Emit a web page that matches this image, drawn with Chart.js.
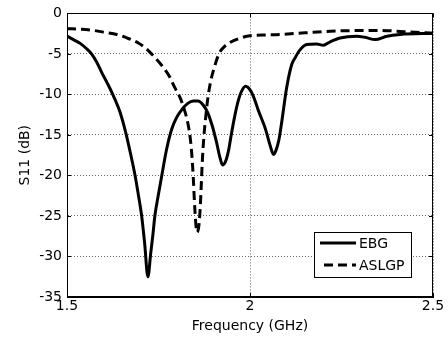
<!DOCTYPE html>
<html>
<head>
<meta charset="utf-8">
<script src="https://cdn.jsdelivr.net/npm/chart.js@4.4.0/dist/chart.umd.min.js"></script>
<style>
  html, body { margin: 0; padding: 0; background: #fff; }
</style>
</head>
<body>
<canvas id="grafico" width="448" height="341"></canvas>
<script>
// dados
const ebgFreq = [1.5, 1.52, 1.536, 1.552, 1.567, 1.581, 1.595, 1.61, 1.625, 1.645, 1.661, 1.675, 1.686, 1.695, 1.704, 1.712, 1.721, 1.729, 1.735, 1.74, 1.75, 1.759, 1.772, 1.786, 1.80, 1.815, 1.83, 1.845, 1.858, 1.872, 1.885, 1.897, 1.908, 1.918, 1.925, 1.933, 1.941, 1.948, 1.956, 1.966, 1.976, 1.988, 1.998, 2.009, 2.023, 2.041, 2.057, 2.064, 2.071, 2.079, 2.087, 2.10, 2.114, 2.123, 2.135, 2.155, 2.182, 2.2, 2.219, 2.246, 2.291, 2.314, 2.342, 2.374, 2.41, 2.5];
const ebgS11 = [-2.8, -3.3, -3.7, -4.3, -5.0, -6.0, -7.3, -8.6, -10.0, -12.2, -14.8, -17.6, -20.0, -22.4, -25.0, -28.3, -32.5, -29.5, -27.2, -25.0, -22.3, -20.0, -16.8, -14.3, -12.8, -11.8, -11.1, -10.8, -10.8, -11.3, -12.3, -13.9, -15.8, -17.8, -18.7, -18.3, -17.0, -15.2, -13.2, -11.1, -9.7, -9.0, -9.3, -10.2, -12.0, -14.1, -16.6, -17.4, -16.9, -15.6, -13.3, -9.2, -6.3, -5.5, -4.6, -3.85, -3.77, -3.93, -3.5, -3.03, -2.82, -2.95, -3.23, -2.82, -2.6, -2.46];

const aslgpFreq = [1.5, 1.54, 1.572, 1.605, 1.636, 1.665, 1.695, 1.715, 1.731, 1.755, 1.78, 1.795, 1.809, 1.82, 1.83, 1.837, 1.841, 1.845, 1.848, 1.852, 1.855, 1.86, 1.864, 1.867, 1.87, 1.874, 1.879, 1.885, 1.893, 1.903, 1.915, 1.93, 1.945, 1.97, 2.0, 2.05, 2.082, 2.15, 2.219, 2.355, 2.42, 2.5];
const aslgpS11 = [-1.88, -1.95, -2.1, -2.35, -2.6, -3.05, -3.65, -4.3, -5.0, -6.2, -7.8, -9.2, -10.4, -11.8, -13.5, -15.5, -17.4, -20.2, -23.1, -26.0, -27.0, -26.3, -24.0, -21.0, -18.0, -15.2, -12.8, -10.4, -8.3, -6.6, -5.0, -4.1, -3.6, -3.1, -2.75, -2.65, -2.6, -2.4, -2.2, -2.1, -2.25, -2.45];

const xTicks = [1.5, 2, 2.5];
const yTicks = [0, -5, -10, -15, -20, -25, -30, -35];

function pontos(xs, ys) {
   return xs.map((x, i) => ({ x: x, y: ys[i] }));
}

const fonte = { family: "'DejaVu Sans', sans-serif", size: 14 };

// caixa do grafico + ticks para dentro
const moldura = {
   id: 'moldura',
   afterDatasetsDraw(chart) {
      const ctx = chart.ctx;
      const a = chart.chartArea;
      const sx = chart.scales.x;
      const sy = chart.scales.y;
      ctx.save();
      ctx.strokeStyle = '#000';
      ctx.lineWidth = 1;
      ctx.strokeRect(Math.round(a.left) + 0.5, Math.round(a.top) + 0.5, Math.round(a.right - a.left) - 1, Math.round(a.bottom - a.top) - 1);
      ctx.beginPath();
      xTicks.forEach(v => {
         const px = Math.round(sx.getPixelForValue(v)) + 0.5;
         ctx.moveTo(px, a.bottom); ctx.lineTo(px, a.bottom - 4);
         ctx.moveTo(px, a.top); ctx.lineTo(px, a.top + 4);
      });
      yTicks.forEach(v => {
         const py = Math.round(sy.getPixelForValue(v)) + 0.5;
         ctx.moveTo(a.left, py); ctx.lineTo(a.left + 4, py);
         ctx.moveTo(a.right, py); ctx.lineTo(a.right - 4, py);
      });
      ctx.stroke();
      ctx.restore();
   }
};

// legenda dentro da area do grafico
const legendaInterna = {
   id: 'legendaInterna',
   afterDraw(chart) {
      const ctx = chart.ctx;
      const a = chart.chartArea;
      const bw = 97, bh = 45;
      const bx = Math.round(a.right) - 22 - bw;
      const by = Math.round(a.bottom) - 20 - bh;
      ctx.save();
      ctx.fillStyle = '#fff';
      ctx.fillRect(bx, by, bw, bh);
      ctx.strokeStyle = '#000';
      ctx.lineWidth = 1;
      ctx.strokeRect(bx + 0.5, by + 0.5, bw, bh);
      ctx.font = "14px 'DejaVu Sans', sans-serif";
      ctx.textBaseline = 'middle';
      ctx.fillStyle = '#000';
      chart.data.datasets.forEach((ds, i) => {
         const ly = by + 11 + i * 22;
         ctx.beginPath();
         ctx.lineWidth = ds.borderWidth;
         ctx.setLineDash(ds.borderDash || []);
         ctx.moveTo(bx + (i == 0 ? 6 : 10), ly);
         ctx.lineTo(bx + 42, ly);
         ctx.stroke();
         ctx.setLineDash([]);
         ctx.fillText(ds.label, bx + 45, ly + 1);
      });
      ctx.restore();
   }
};

const ctxGrafico = document.getElementById('grafico');
new Chart(ctxGrafico, {
   type: 'line',
   data: {
      datasets: [
         {
            label: 'EBG',
            data: pontos(ebgFreq, ebgS11),
            borderColor: '#000',
            borderWidth: 3,
            pointRadius: 0,
            cubicInterpolationMode: 'monotone',
            fill: false,
         },
         {
            label: 'ASLGP',
            data: pontos(aslgpFreq, aslgpS11),
            borderColor: '#000',
            borderWidth: 3,
            borderDash: [9, 5],
            pointRadius: 0,
            cubicInterpolationMode: 'monotone',
            fill: false,
         },
      ],
   },
   options: {
      responsive: false,
      animation: false,
      layout: {
         padding: { top: 12, right: 15, bottom: 0, left: 0 },
      },
      plugins: {
         legend: { display: false },
         tooltip: { enabled: false },
      },
      scales: {
         x: {
            type: 'linear',
            min: 1.5,
            max: 2.5,
            afterBuildTicks: s => { s.ticks = xTicks.map(v => ({ value: v })); },
            afterFit: s => { s.height = 44; },
            ticks: { color: '#000', font: fonte, padding: 1, maxRotation: 0, autoSkip: false, callback: v => String(v) },
            grid: { color: '#666', drawTicks: false },
            border: { display: true, color: '#000', dash: [1, 2] },
            title: { display: true, text: 'Frequency (GHz)', color: '#000', font: fonte, padding: { top: 0, bottom: 6 } },
         },
         y: {
            min: -35,
            max: 0,
            afterBuildTicks: s => { s.ticks = yTicks.map(v => ({ value: v })); },
            afterFit: s => { s.width = 67; },
            ticks: { color: '#000', font: fonte, padding: 5, autoSkip: false, callback: v => String(v) },
            grid: { color: '#666', drawTicks: false },
            border: { display: true, color: '#000', dash: [1, 2] },
            title: { display: true, text: 'S11 (dB)', color: '#000', font: fonte, padding: { top: 17, bottom: 0 } },
         },
      },
   },
   plugins: [moldura, legendaInterna],
});
</script>
</body>
</html>
